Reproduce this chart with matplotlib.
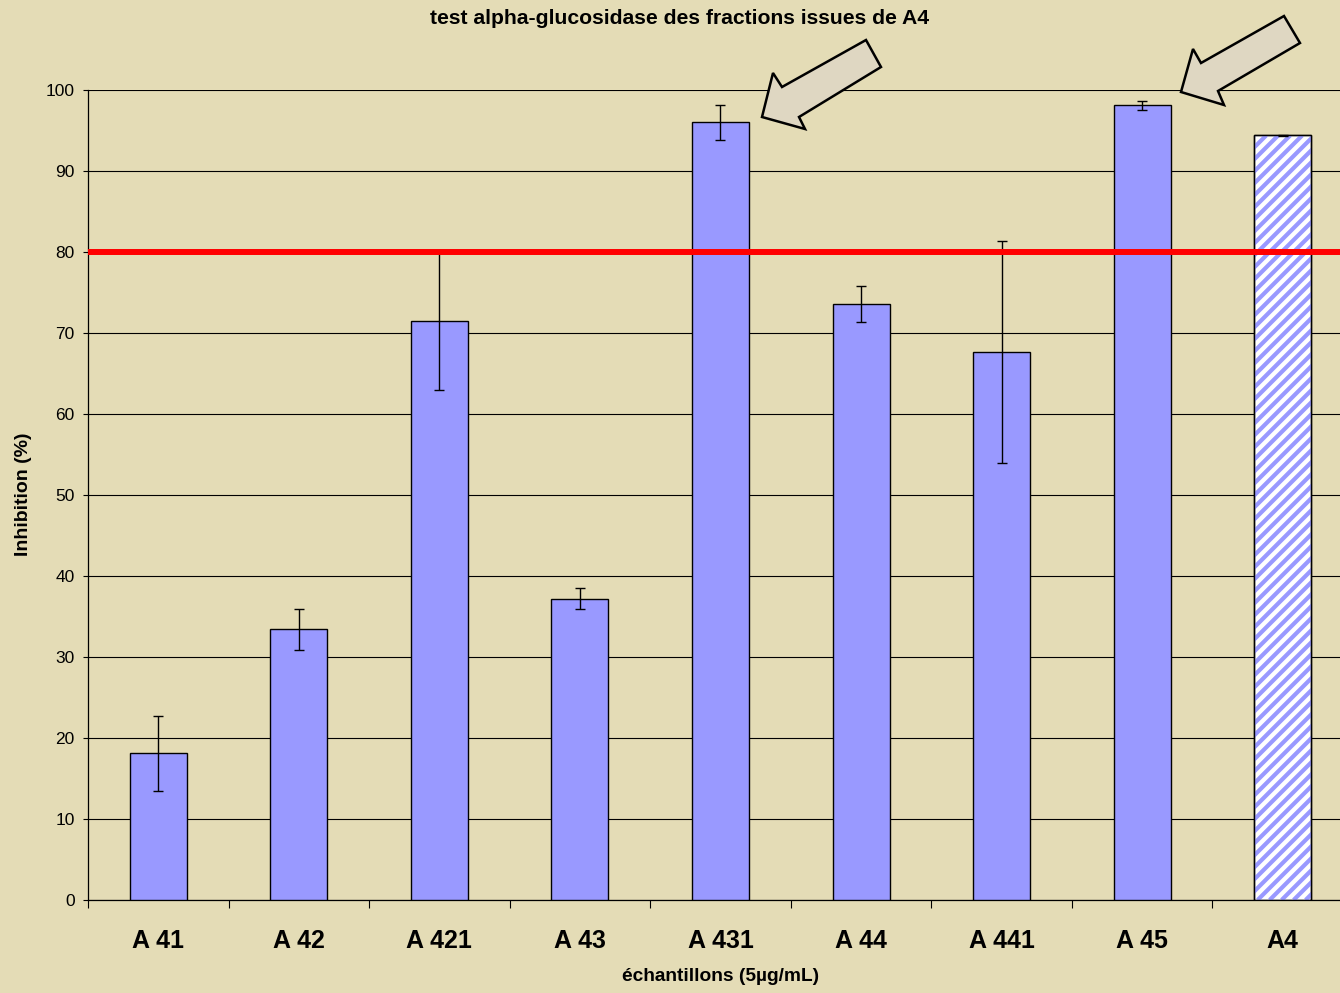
import numpy as np
import matplotlib
matplotlib.use("Agg")
import matplotlib.pyplot as plt
from matplotlib.patches import Polygon
from matplotlib.collections import LineCollection
from matplotlib.transforms import IdentityTransform

plt.rcParams['font.family'] = ['Liberation Sans', 'DejaVu Sans']

# data
samples = ['A 41', 'A 42', 'A 421', 'A 43', 'A 431', 'A 44', 'A 441', 'A 45', 'A4']
inhibition = [18.1, 33.4, 71.5, 37.2, 96.0, 73.6, 67.6, 98.1, 94.4]
errors = [4.6, 2.5, 8.5, 1.3, 2.2, 2.2, 13.7, 0.6, 0.1]
threshold = 80

title = "test alpha-glucosidase des fractions issues de A4"
xlabel = "échantillons (5µg/mL)"
ylabel = "Inhibition (%)"

# colours
BG = '#E4DCB6'
BAR = '#9999FF'
ARROW = '#DFD7C2'

W, H = 1340, 993
fig = plt.figure(figsize=(W / 100, H / 100), dpi=100)
fig.patch.set_facecolor(BG)

ax = fig.add_axes([88 / W, 93 / H, 1265 / W, 810 / H])
ax.set_facecolor('none')

x = np.arange(len(samples))
colors = [BAR] * (len(samples) - 1) + ['white']
bars = ax.bar(x, inhibition, width=0.405, color=colors, edgecolor='black',
              linewidth=1.0, zorder=3)
ax.errorbar(x, inhibition, yerr=errors, fmt='none', ecolor='black',
            elinewidth=1.0, capsize=3.8, capthick=1.0, zorder=4)

ax.set_xlim(-0.5, len(samples) - 0.5)
ax.set_ylim(0, 100)

# threshold line
ax.axhline(threshold, color='#FF0000', linewidth=4.3, zorder=6)

# grid / spines
ax.set_yticks(np.arange(0, 101, 10))
ax.yaxis.grid(True, color='black', linewidth=0.8, zorder=0)
ax.set_axisbelow(True)
for s in ['top', 'right']:
    ax.spines[s].set_visible(False)
ax.spines['left'].set_linewidth(0.9)
ax.spines['bottom'].set_linewidth(0.9)

ax.tick_params(axis='y', length=3.6, width=0.8, pad=6, labelsize=12.5)
ax.set_xticks(x)
ax.set_xticklabels(samples, fontsize=18, fontweight='bold')
ax.tick_params(axis='x', which='major', length=0, pad=21)
ax.set_xticks(np.arange(-0.5, len(samples), 1), minor=True)
ax.tick_params(axis='x', which='minor', length=5.8, width=0.8)

ax.set_xlabel(xlabel, fontsize=13.8, fontweight='bold', labelpad=11)
fig.text(24 / W, 1 - 494 / H, ylabel, rotation=90, ha='center', va='center',
         fontsize=14, fontweight='bold')
fig.text(680 / W, 1 - 18 / H, title, ha='center', va='center',
         fontsize=15.2, fontweight='bold')

# diagonal stripes on the last bar (A4)
fig.canvas.draw()
last = bars[-1]
x0, y0 = ax.transData.transform((last.get_x(), 0))
x1, y1 = ax.transData.transform((last.get_x() + last.get_width(), last.get_height()))
period = 12.0
segs = []
for c in np.arange(x0 - (y1 - y0), x1 + period, period):
    segs.append([(c, y0), (c + (y1 - y0), y1)])
stripes = LineCollection(segs, colors=BAR, linewidths=3.0,
                         transform=IdentityTransform(), zorder=3.5)
ax.add_collection(stripes, autolim=False)
stripes.set_clip_path(last.get_path(), last.get_transform())
ax.bar(x[-1], inhibition[-1], width=0.405, color='none',
       edgecolor='black', linewidth=1.0, zorder=3.6)

# block arrows pointing to the best fractions (pixel coordinates)
ov = fig.add_axes([0, 0, 1, 1], zorder=10)
ov.set_xlim(0, W)
ov.set_ylim(H, 0)
ov.axis('off')
arrow1 = [(762, 117), (773, 73), (782, 87), (866, 40), (881, 67), (799, 117), (805, 129)]
arrow2 = [(1181, 92), (1193, 49), (1201, 63), (1284, 16), (1300, 43), (1218, 91), (1224, 105)]
for pts in [arrow1, arrow2]:
    ov.add_patch(Polygon(pts, closed=True, facecolor=ARROW, edgecolor='black',
                         linewidth=1.8, joinstyle='miter'))

fig.savefig('out.png', dpi=100, facecolor=BG)
